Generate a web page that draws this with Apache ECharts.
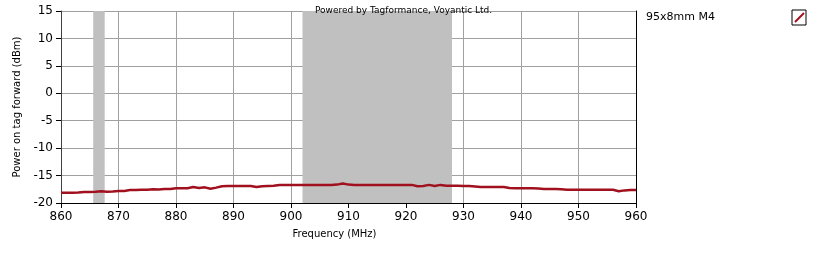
<!DOCTYPE html>
<html><head><meta charset="utf-8">
<script src="https://cdn.jsdelivr.net/npm/echarts@6/dist/echarts.min.js"></script>
<style>html,body{margin:0;padding:0;background:#fff}#c{width:821px;height:256px}</style>
</head><body><div id="c"></div>
<script>
const freqStart = 860;
const power = [
 -18.15,-18.15,-18.15,-18.1,-18.0,-18.0,-17.95,-17.85,-17.95,-17.9,
 -17.8,-17.8,-17.65,-17.65,-17.6,-17.6,-17.5,-17.55,-17.45,-17.45,
 -17.3,-17.3,-17.3,-17.1,-17.25,-17.15,-17.4,-17.2,-16.95,-16.9,
 -16.9,-16.9,-16.9,-16.9,-17.1,-16.95,-16.9,-16.85,-16.7,-16.7,
 -16.7,-16.7,-16.7,-16.7,-16.7,-16.7,-16.7,-16.7,-16.65,-16.45,
 -16.65,-16.7,-16.7,-16.7,-16.7,-16.7,-16.7,-16.7,-16.7,-16.7,
 -16.7,-16.7,-16.95,-16.9,-16.7,-16.9,-16.7,-16.85,-16.85,-16.85,
 -16.9,-16.9,-17.0,-17.1,-17.1,-17.1,-17.1,-17.1,-17.25,-17.3,
 -17.3,-17.3,-17.3,-17.35,-17.45,-17.45,-17.45,-17.5,-17.6,-17.6,
 -17.6,-17.6,-17.6,-17.6,-17.6,-17.6,-17.6,-17.85,-17.7,-17.65,
 -17.65
];
const bands = [[865.6, 867.6], [902, 928]];
const seriesName = '95x8mm M4';
const xTicks = {min: 860, max: 960, interval: 10};
const yTicks = {min: -20, max: 15, interval: 5};

const data = power.map((v, i) => [freqStart + i, v]);
const font = 'DejaVu Sans';
const chart = echarts.init(document.getElementById('c'));
chart.setOption({
  animation: false,
  title: {text: 'Powered by Tagformance, Voyantic Ltd.', left: 310, top: 1,
    textStyle: {fontFamily: font, fontSize: 9, fontWeight: 'normal', color: '#000'}},
  legend: {left: 641, top: 10, padding: 0, icon: 'none', itemWidth: 0, itemGap: 0,
    textStyle: {fontFamily: font, fontSize: 11, color: '#000'},
    data: [seriesName], selectedMode: false},
  graphic: [
    {type: 'rect', shape: {x: 792, y: 10, width: 14, height: 15}, style: {fill: '#fff', stroke: '#000', lineWidth: 1}},
    {type: 'line', shape: {x1: 795, y1: 22, x2: 804, y2: 13}, style: {stroke: '#a0101e', lineWidth: 2}}
  ],
  grid: {left: 61, right: 185, top: 11, bottom: 53},
  xAxis: {type: 'value', min: xTicks.min, max: xTicks.max, interval: xTicks.interval,
    name: 'Frequency (MHz)', nameLocation: 'middle', nameGap: 26,
    nameTextStyle: {fontFamily: font, fontSize: 10, color: '#000', padding: [0, 28, 0, 0]},
    axisLine: {onZero: false, lineStyle: {color: '#000', width: 1}},
    axisTick: {length: 5, lineStyle: {color: '#000'}},
    axisLabel: {fontFamily: font, fontSize: 12, color: '#000', margin: 8},
    splitLine: {lineStyle: {color: '#a0a0a0', width: 1}}},
  yAxis: [{type: 'value', min: yTicks.min, max: yTicks.max, interval: yTicks.interval,
    name: 'Power on tag forward (dBm)', nameLocation: 'middle', nameGap: 36,
    nameTextStyle: {fontFamily: font, fontSize: 10, color: '#000'},
    axisLine: {show: true, onZero: false, lineStyle: {color: '#404040', width: 1}},
    axisTick: {show: true, length: 5, lineStyle: {color: '#000'}},
    axisLabel: {fontFamily: font, fontSize: 12, color: '#000', margin: 8},
    splitLine: {lineStyle: {color: '#a0a0a0', width: 1}}},
   {type: 'value', min: yTicks.min, max: yTicks.max, interval: yTicks.interval, position: 'right',
    axisLine: {show: true, onZero: false, lineStyle: {color: '#000', width: 1}},
    axisTick: {show: false}, axisLabel: {show: false}, splitLine: {show: false}}],
  series: [
    {type: 'line', name: 'bands', data: data, z: -1, symbol: 'none', silent: true,
      lineStyle: {opacity: 0}, legendHoverLink: false,
      markArea: {silent: true, itemStyle: {color: '#c0c0c0', opacity: 1},
        data: bands.map(b => [{xAxis: b[0]}, {xAxis: b[1]}])}},
    {type: 'line', name: seriesName, data: data, symbol: 'none', z: 3,
      lineStyle: {color: '#a0101e', width: 2.5}, itemStyle: {color: '#a0101e'}}
  ]
});
</script></body></html>
